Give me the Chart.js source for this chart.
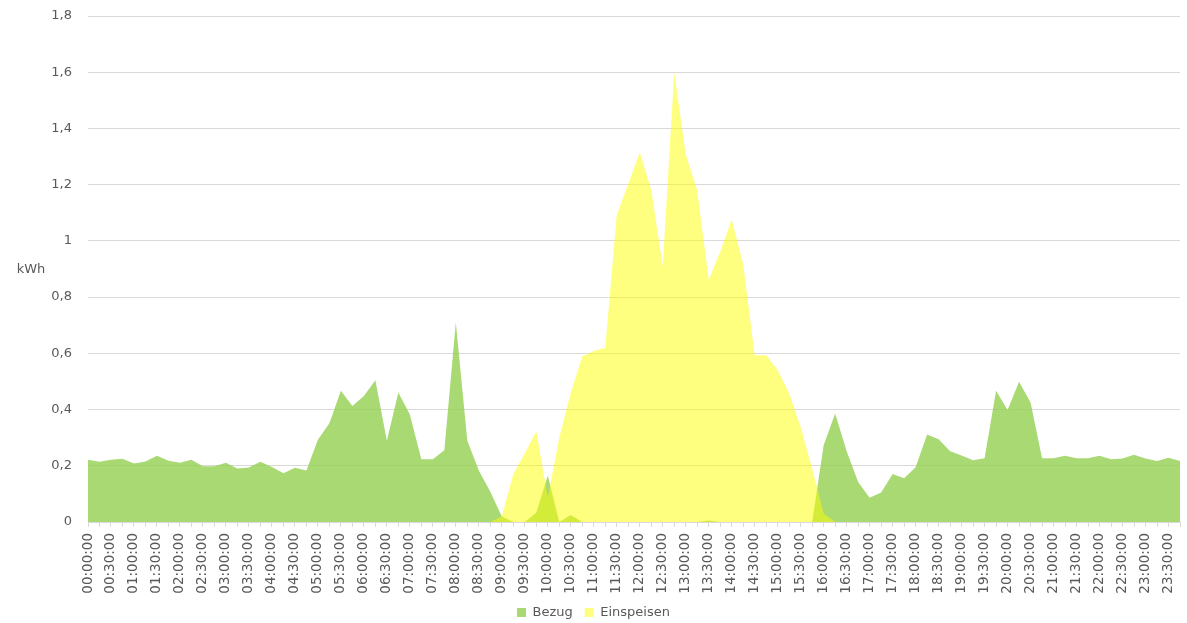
<!DOCTYPE html>
<html lang="de">
<head>
<meta charset="utf-8">
<title>Bezug / Einspeisen</title>
<script src="https://cdn.jsdelivr.net/npm/chart.js@4/dist/chart.umd.min.js"></script>
<style>
  html, body { margin: 0; padding: 0; background: #fff; }
  #wrap { width: 1187px; height: 623px; }
</style>
</head>
<body>
<div id="wrap"><canvas id="chart" width="1187" height="623"></canvas></div>
<script>
// 15-Minuten-Werte eines Tages (kWh)
const zeiten = [
  "00:00:00","00:15:00","00:30:00","00:45:00","01:00:00","01:15:00","01:30:00","01:45:00",
  "02:00:00","02:15:00","02:30:00","02:45:00","03:00:00","03:15:00","03:30:00","03:45:00",
  "04:00:00","04:15:00","04:30:00","04:45:00","05:00:00","05:15:00","05:30:00","05:45:00",
  "06:00:00","06:15:00","06:30:00","06:45:00","07:00:00","07:15:00","07:30:00","07:45:00",
  "08:00:00","08:15:00","08:30:00","08:45:00","09:00:00","09:15:00","09:30:00","09:45:00",
  "10:00:00","10:15:00","10:30:00","10:45:00","11:00:00","11:15:00","11:30:00","11:45:00",
  "12:00:00","12:15:00","12:30:00","12:45:00","13:00:00","13:15:00","13:30:00","13:45:00",
  "14:00:00","14:15:00","14:30:00","14:45:00","15:00:00","15:15:00","15:30:00","15:45:00",
  "16:00:00","16:15:00","16:30:00","16:45:00","17:00:00","17:15:00","17:30:00","17:45:00",
  "18:00:00","18:15:00","18:30:00","18:45:00","19:00:00","19:15:00","19:30:00","19:45:00",
  "20:00:00","20:15:00","20:30:00","20:45:00","21:00:00","21:15:00","21:30:00","21:45:00",
  "22:00:00","22:15:00","22:30:00","22:45:00","23:00:00","23:15:00","23:30:00","23:45:00"
];

const bezug = [
  0.221, 0.214, 0.221, 0.225, 0.208, 0.215, 0.236, 0.218,
  0.211, 0.221, 0.198, 0.198, 0.211, 0.190, 0.194, 0.214,
  0.196, 0.173, 0.193, 0.183, 0.293, 0.351, 0.467, 0.413,
  0.448, 0.504, 0.289, 0.461, 0.382, 0.223, 0.223, 0.255,
  0.710, 0.289, 0.183, 0.108, 0.020, 0, 0, 0.033,
  0.165, 0, 0.025, 0, 0, 0, 0, 0,
  0, 0, 0, 0, 0, 0, 0.005, 0,
  0, 0, 0, 0, 0, 0, 0, 0,
  0.273, 0.386, 0.252, 0.142, 0.086, 0.105, 0.171, 0.156,
  0.195, 0.311, 0.294, 0.252, 0.237, 0.220, 0.227, 0.467,
  0.398, 0.499, 0.425, 0.227, 0.227, 0.236, 0.227, 0.227,
  0.236, 0.223, 0.226, 0.239, 0.226, 0.217, 0.229, 0.217
];

const einspeisen = [
  0, 0, 0, 0, 0, 0, 0, 0,
  0, 0, 0, 0, 0, 0, 0, 0,
  0, 0, 0, 0, 0, 0, 0, 0,
  0, 0, 0, 0, 0, 0, 0, 0,
  0, 0, 0, 0, 0.020, 0.171, 0.245, 0.323,
  0.087, 0.300, 0.460, 0.589, 0.608, 0.620, 1.092, 1.202,
  1.315, 1.181, 0.910, 1.600, 1.308, 1.178, 0.862, 0.961,
  1.076, 0.917, 0.593, 0.593, 0.540, 0.458, 0.338, 0.190,
  0.030, 0, 0, 0, 0, 0, 0, 0,
  0, 0, 0, 0, 0, 0, 0, 0,
  0, 0, 0, 0, 0, 0, 0, 0,
  0, 0, 0, 0, 0, 0, 0, 0
];

const yMin = 0;
const yMax = 1.8;
const yStep = 0.2;

const textColor = "#595959";
const gridColor = "#d9d9d9";
const schrift = "'DejaVu Sans', sans-serif";

// Achsentitel "kWh" waagerecht links
const kwhTitel = {
  id: "kwhTitel",
  afterDraw(chart) {
    const ctx = chart.ctx;
    ctx.save();
    ctx.font = "13px " + schrift;
    ctx.fillStyle = textColor;
    ctx.textAlign = "center";
    ctx.textBaseline = "middle";
    ctx.fillText("kWh", 31, 270);
    ctx.restore();
  }
};

new Chart(document.getElementById("chart"), {
  type: "line",
  data: {
    labels: zeiten,
    datasets: [
      // Einspeisen zuerst -> wird oben gezeichnet
      {
        label: "Einspeisen",
        data: einspeisen,
        backgroundColor: "rgba(255, 255, 0, 0.5)",
        borderWidth: 0,
        pointRadius: 0,
        fill: "origin",
        tension: 0
      },
      {
        label: "Bezug",
        data: bezug,
        backgroundColor: "rgba(146, 208, 80, 0.8)",
        borderWidth: 0,
        pointRadius: 0,
        fill: "origin",
        tension: 0
      }
    ]
  },
  options: {
    responsive: false,
    animation: false,
    layout: { padding: { top: 16, right: 0, left: 0, bottom: -6 } },
    plugins: {
      tooltip: { enabled: false },
      legend: {
        position: "bottom",
        reverse: true,
        labels: {
          color: textColor,
          font: { family: schrift, size: 13 },
          boxWidth: 9,
          boxHeight: 9,
          padding: 12
        }
      }
    },
    scales: {
      x: {
        offset: false,
        afterFit: (s) => { s.height = 72; s.paddingRight = 7; s.paddingLeft = 0; },
        grid: {
          drawOnChartArea: false,
          drawTicks: true,
          tickLength: 5,
          color: gridColor
        },
        border: { display: true, color: gridColor },
        ticks: {
          autoSkip: false,
          maxRotation: 90,
          minRotation: 90,
          padding: 6,
          color: textColor,
          font: { family: schrift, size: 13.5 },
          callback: (v, i) => (i % 2 === 0 ? zeiten[i] : "")
        }
      },
      y: {
        min: yMin,
        max: yMax,
        afterFit: (s) => { s.width = 88; s.paddingTop = 0; s.paddingBottom = 0; },
        grid: { color: gridColor, drawTicks: false },
        border: { display: false },
        ticks: {
          stepSize: yStep,
          padding: 16,
          color: textColor,
          font: { family: schrift, size: 13 },
          callback: (v) => String(Math.round(v * 10) / 10).replace(".", ",")
        }
      }
    }
  },
  plugins: [kwhTitel]
});
</script>
</body>
</html>
